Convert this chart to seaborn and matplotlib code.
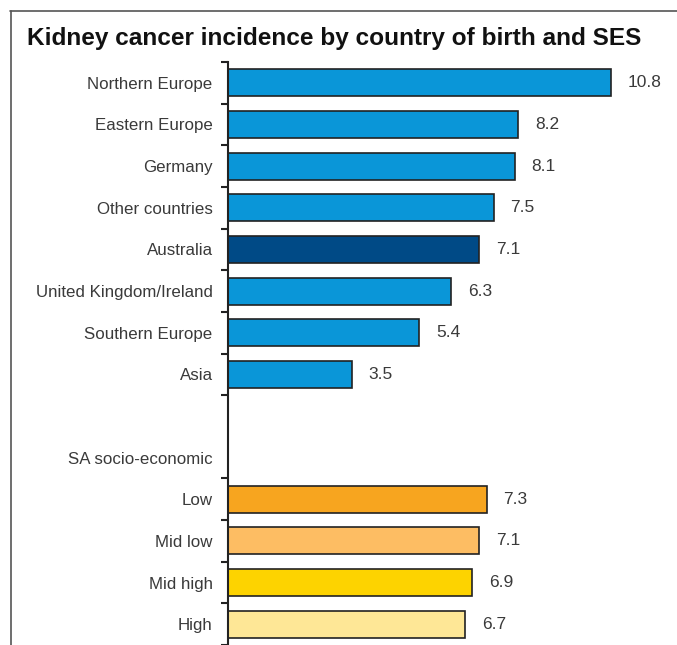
import matplotlib
matplotlib.use("Agg")
import matplotlib.pyplot as plt
from matplotlib.lines import Line2D
import numpy as np
import pandas as pd
import seaborn as sns

sns.set_theme(style="white")
plt.rcParams["font.family"] = ["Liberation Sans", "DejaVu Sans"]

# Incidence rates by country of birth and by socio-economic status
countries = ["Northern Europe", "Eastern Europe", "Germany", "Other countries",
             "Australia", "United Kingdom/Ireland", "Southern Europe", "Asia"]
country_rates = [10.8, 8.2, 8.1, 7.5, 7.1, 6.3, 5.4, 3.5]

ses_groups = ["Low", "Mid low", "Mid high", "High"]
ses_rates = [7.3, 7.1, 6.9, 6.7]

section_header = "SA socio-economic"

bar_colours = {
    "Northern Europe": "#0a96d8", "Eastern Europe": "#0a96d8", "Germany": "#0a96d8",
    "Other countries": "#0a96d8", "Australia": "#004a86",
    "United Kingdom/Ireland": "#0a96d8", "Southern Europe": "#0a96d8", "Asia": "#0a96d8",
    "Low": "#f7a51f", "Mid low": "#fdbd63", "Mid high": "#fdd300", "High": "#fee796",
}

df = pd.DataFrame({"label": countries + ses_groups,
                   "rate": country_rates + ses_rates})
order = countries + [" ", section_header] + ses_groups

fig = plt.figure(figsize=(6.77, 6.45), dpi=100)
ax = fig.add_axes([228 / 677, 0.0, 425 / 677, 1 - 62 / 645])

sns.barplot(data=df, y="label", x="rate", order=order, hue="label",
            palette=bar_colours, legend=False, orient="h", width=0.65,
            edgecolor="#222222", linewidth=1.2, ax=ax, saturation=1)

for cont in ax.containers:
    ax.bar_label(cont, fmt="%.1f", padding=12, fontsize=12.5, color="#3a3a3a")

ax.set_xlim(0, 12)
ax.set_ylim(len(order) - 0.5, -0.5)
ax.set_xlabel("")
ax.set_ylabel("")
ax.set_xticks([])

ax.set_yticks(range(len(order)))
ax.set_yticklabels(order, fontsize=12.2, color="#3a3a3a")
ax.tick_params(axis="y", which="major", length=0, pad=11)
boundaries = [b - 0.5 for b in range(len(order) + 1) if b != 9]
ax.set_yticks(boundaries, minor=True)
ax.tick_params(axis="y", which="minor", length=5, width=1.5, color="#222222",
               direction="out", left=True)

for side in ["top", "right", "bottom"]:
    ax.spines[side].set_visible(False)
ax.spines["left"].set_color("#222222")
ax.spines["left"].set_linewidth(1.5)

# Panel frame: top rule and left rule
fig.add_artist(Line2D([10 / 677, 1.0], [1 - 11 / 645, 1 - 11 / 645],
                      transform=fig.transFigure, color="#555555", lw=1.2))
fig.add_artist(Line2D([11 / 677, 11 / 677], [1 - 11 / 645, 0.0],
                      transform=fig.transFigure, color="#555555", lw=1.2))

fig.text(27 / 677, 1 - 38 / 645, "Kidney cancer incidence by country of birth and SES",
         fontsize=17.6, fontweight="bold", color="#111111", va="center", ha="left")

fig.savefig("out.png", dpi=100)
